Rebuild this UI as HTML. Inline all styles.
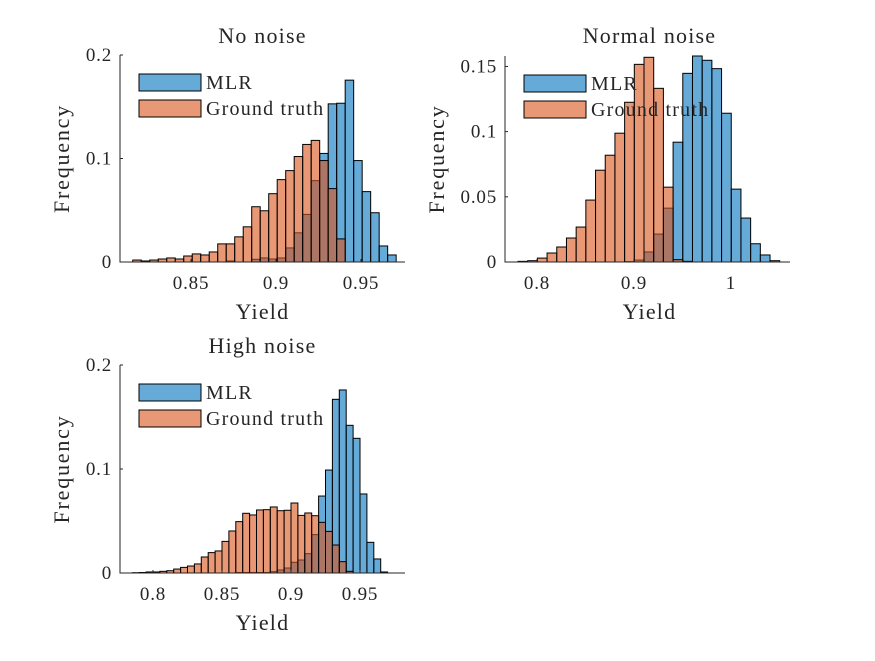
<!DOCTYPE html>
<html><head><meta charset="utf-8"><style>
body{margin:0;background:#fff}
svg text{font-family:"Liberation Serif",serif;fill:#262626}
</style></head><body>
<svg id="chart" width="875" height="656" viewBox="0 0 875 656" xmlns="http://www.w3.org/2000/svg"></svg>
<script>
// Panel 1: No noise
const p1Start = 0.8157, p1Width = 0.005;
const p1Mlr = [0,0,0,0,0,0,0,0,0,0,0,0.001,0,0,0.0026,0.0039,0.0029,0.0039,0.0136,0.0282,0.046,0.0786,0.1049,0.1528,0.1534,0.1757,0.098,0.068,0.0476,0.0155,0.0068];
const p1Truth = [0.0019,0.001,0.0019,0.0029,0.0039,0.0029,0.0058,0.0078,0.0068,0.0097,0.0175,0.0175,0.0243,0.034,0.0534,0.0495,0.066,0.0796,0.0883,0.1019,0.1136,0.1175,0.098,0.0709,0.0223];
const p1XTicks = [0.85,0.9,0.95], p1XLabels = ["0.85","0.9","0.95"];
const p1YTicks = [0,0.1,0.2], p1YLabels = ["0","0.1","0.2"];
// Panel 2: Normal noise
const p2Start = 0.7804, p2Width = 0.01;
const p2Mlr = [0,0,0,0,0,0,0,0,0,0,0,0.0003,0.0015,0.0077,0.0214,0.0413,0.0919,0.1447,0.1582,0.1547,0.1483,0.1141,0.0559,0.0337,0.014,0.0054,0.001];
const p2Truth = [0.0005,0.001,0.003,0.0069,0.0115,0.0184,0.0268,0.0475,0.0704,0.0819,0.0988,0.1225,0.1516,0.157,0.1332,0.0574,0.0018,0.0005];
const p2XTicks = [0.8,0.9,1], p2XLabels = ["0.8","0.9","1"];
const p2YTicks = [0,0.05,0.1,0.15], p2YLabels = ["0","0.05","0.1","0.15"];
// Panel 3: High noise
const p3Start = 0.785, p3Width = 0.005;
const p3Mlr = [0,0,0,0,0,0,0,0,0,0,0,0,0,0,0,0.0005,0.0005,0.0005,0.0005,0.0005,0.0013,0.0029,0.0048,0.0103,0.0125,0.0186,0.0369,0.074,0.099,0.167,0.176,0.142,0.1295,0.076,0.0295,0.0135,0.001];
const p3Truth = [0.0003,0.0005,0.001,0.001,0.0016,0.0022,0.0038,0.0054,0.0067,0.0087,0.0154,0.0196,0.0212,0.0304,0.0404,0.0494,0.0574,0.0558,0.0606,0.0609,0.0635,0.0599,0.0603,0.0673,0.0554,0.0577,0.0551,0.0487,0.04,0.0269,0.0109,0.0016];
const p3XTicks = [0.8,0.85,0.9,0.95], p3XLabels = ["0.8","0.85","0.9","0.95"];
const p3YTicks = [0,0.1,0.2], p3YLabels = ["0","0.1","0.2"];

const svg = document.getElementById('chart');
const NS = 'http://www.w3.org/2000/svg';
function mk(tag, attrs, parent){const e=document.createElementNS(NS,tag);for(const k in attrs)e.setAttribute(k,attrs[k]);(parent||svg).appendChild(e);return e;}

function panel(id, g, title, start, width, mlr, truth, xt, xl, yt, yl){
  const grp = mk('g',{});
  
  
  const xs = v => g.l + (v-g.xmin)/(g.xmax-g.xmin)*(g.r-g.l);
  const ys = v => g.b - v/g.ymax*(g.b-g.t);
  const draw = (arr, color, name) => {
    arr.forEach((v,i)=>{
      if(v<=0) return;
      const x0 = xs(start+i*width), x1 = xs(start+(i+1)*width);
      const y = Math.max(ys(v), g.t);
      const r = mk('rect',{x:x0,y:y,width:x1-x0,height:g.b-y,fill:color,'fill-opacity':0.6,stroke:'#000','stroke-width':1},grp);
      
      
    });
  };
  draw(mlr,'#0072BD','mlr');
  draw(truth,'#D95319','ground-truth');
  const ax = mk('path',{d:`M${g.l},${g.t}V${g.b}H${g.r}`,fill:'none',stroke:'#262626','stroke-width':1},grp);
  
  
  xt.forEach((v,i)=>{
    const x=xs(v);
    mk('line',{x1:x,x2:x,y1:g.b,y2:g.b-3,stroke:'#262626'},grp);
    const t=mk('text',{x:x,y:g.b+27,'font-size':19,'letter-spacing':0.8,'text-anchor':'middle'},grp);
    t.textContent=xl[i];
    
    
  });
  yt.forEach((v,i)=>{
    const y=ys(v);
    mk('line',{x1:g.l,x2:g.l+3,y1:y,y2:y,stroke:'#262626'},grp);
    const t=mk('text',{x:g.l-8,y:y+6,'font-size':19,'letter-spacing':0.8,'text-anchor':'end'},grp);
    t.textContent=yl[i];
    
    
  });
  const cx=(g.l+g.r)/2+(id==='p2'?2:0);
  const tt=mk('text',{x:cx,y:g.titleY,'font-size':22,'letter-spacing':1.2,'text-anchor':'middle'},grp);
  tt.textContent=title;
  
  
  const xlab=mk('text',{x:cx,y:g.b+57,'font-size':22,'letter-spacing':1.2,'text-anchor':'middle'},grp);
  xlab.textContent='Yield';
  
  
  const ly=(g.t+g.b)/2;
  const ylab=mk('text',{x:g.ylx,y:ly,'font-size':22,'letter-spacing':1.8,'text-anchor':'middle',transform:`rotate(-90 ${g.ylx} ${ly})`},grp);
  ylab.textContent='Frequency';
  
  
  // legend
  const lx=g.l+19, lt=g.t+19;
  const b1=mk('rect',{x:lx,y:lt,width:62,height:17,fill:'#0072BD','fill-opacity':0.6,stroke:'#000'},grp);
  
  
  const t1=mk('text',{x:lx+67,y:lt+15,'font-size':20,'letter-spacing':1.2},grp);
  t1.textContent='MLR';
  
  
  const b2=mk('rect',{x:lx,y:lt+26,width:62,height:17,fill:'#D95319','fill-opacity':0.6,stroke:'#000'},grp);
  
  
  const t2=mk('text',{x:lx+67,y:lt+41,'font-size':20,'letter-spacing':1.2},grp);
  t2.textContent='Ground truth';
  
  
}
panel('p1',{l:120,r:405,t:55,b:262,xmin:0.8082,xmax:0.9759,ymax:0.2,titleY:43,ylx:69},'No noise',p1Start,p1Width,p1Mlr,p1Truth,p1XTicks,p1XLabels,p1YTicks,p1YLabels);
panel('p2',{l:505,r:790,t:56,b:262,xmin:0.767,xmax:1.061,ymax:0.158,titleY:43,ylx:444},'Normal noise',p2Start,p2Width,p2Mlr,p2Truth,p2XTicks,p2XLabels,p2YTicks,p2YLabels);
panel('p3',{l:120,r:405,t:365,b:573,xmin:0.7761,xmax:0.9826,ymax:0.2,titleY:353,ylx:69},'High noise',p3Start,p3Width,p3Mlr,p3Truth,p3XTicks,p3XLabels,p3YTicks,p3YLabels);
</script>
</body></html>
